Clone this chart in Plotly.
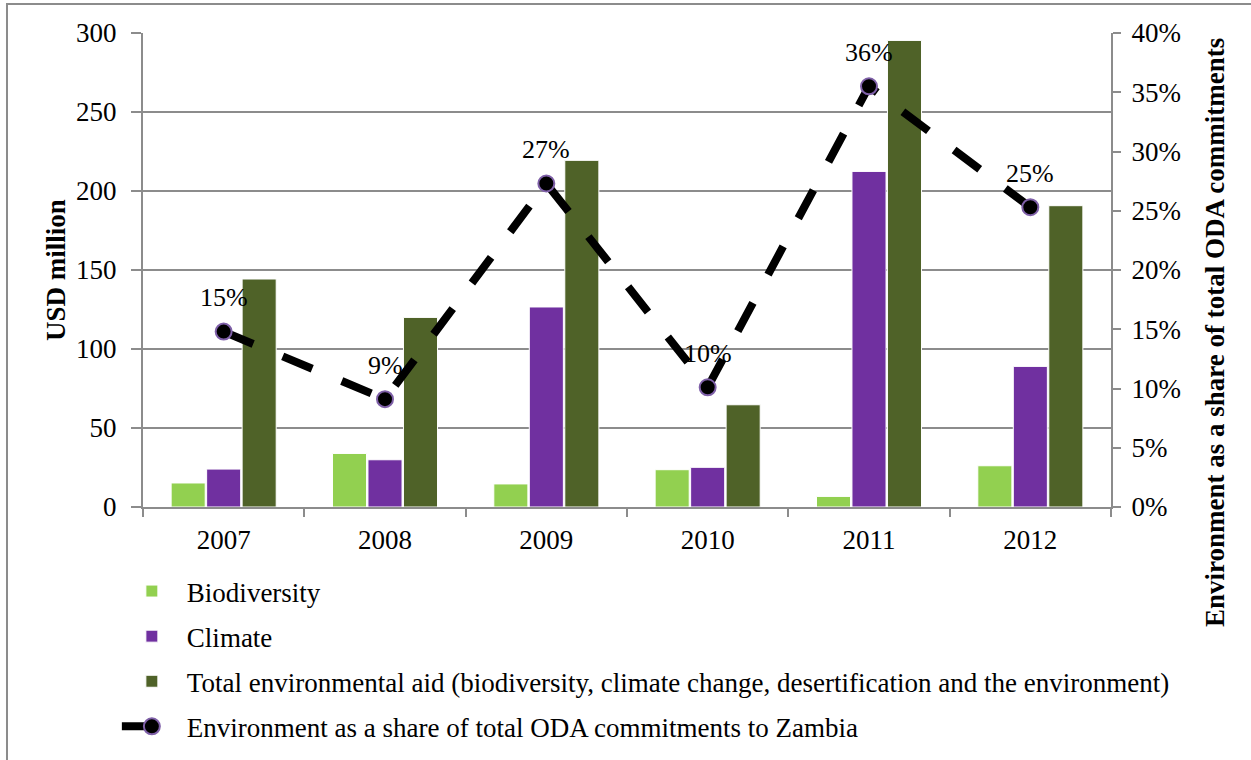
import plotly.graph_objects as go

years = ["2007", "2008", "2009", "2010", "2011", "2012"]
biodiversity = [15.2, 33.9, 14.6, 23.6, 6.7, 26.1]
climate = [24.0, 29.9, 126.6, 25.1, 212.4, 89.0]
total_env = [144.3, 120.0, 219.4, 64.7, 295.3, 190.7]
share_pct = [14.8, 9.1, 27.3, 10.1, 35.5, 25.3]
share_labels = ["15%", "9%", "27%", "10%", "36%", "25%"]

left_ticks = [0, 50, 100, 150, 200, 250, 300]
right_ticks = [0, 5, 10, 15, 20, 25, 30, 35, 40]

FONT = "Liberation Serif, Times New Roman, serif"
GRID = "#8c8c8c"
FS = 27

xi = list(range(len(years)))
bounds = [i - 0.5 for i in range(len(years) + 1)]

fig = go.Figure()
fig.add_trace(go.Bar(x=xi, y=biodiversity, name="Biodiversity",
                     marker=dict(color="#92D050", line=dict(color="white", width=1)),
                     legendgroup="a"))
fig.add_trace(go.Bar(x=xi, y=climate, name="Climate",
                     marker=dict(color="#7030A0", line=dict(color="white", width=1)),
                     legendgroup="b"))
fig.add_trace(go.Bar(x=xi, y=total_env,
                     name="Total environmental aid (biodiversity, climate change, desertification and the environment)",
                     marker=dict(color="#4F6228", line=dict(color="white", width=1)),
                     legendgroup="c"))
fig.add_trace(go.Scatter(x=xi, y=share_pct, yaxis="y2", mode="lines+markers",
                         name="Environment as a share of total ODA commitments to Zambia",
                         line=dict(color="black", width=8, dash="32px,32px"),
                         marker=dict(color="black", size=16, line=dict(color="#7F60A8", width=2)),
                         legendgroup="d"))

for i, v, lab in zip(xi, share_pct, share_labels):
    fig.add_annotation(x=i, y=v, xref="x", yref="y2", text=lab, showarrow=False,
                       xanchor="center", yanchor="middle",
                       yshift=34, font=dict(family=FONT, size=26, color="black"))

fig.add_annotation(text="<b>USD million</b>", xref="paper", yref="paper",
                   x=-0.0899, y=0.5, textangle=-90, showarrow=False,
                   xanchor="center", yanchor="middle",
                   font=dict(family=FONT, size=FS, color="black"))
fig.add_annotation(text="<b>Environment as a share of total ODA commitments</b>",
                   xref="paper", yref="paper", x=1.1074, y=0.369, textangle=-90,
                   xanchor="center", yanchor="middle",
                   showarrow=False, font=dict(family=FONT, size=FS, color="black"))

fig.add_shape(type="rect", xref="paper", yref="paper",
              x0=-0.1405, x1=1.3, y0=-0.7, y1=1.0612,
              line=dict(color="#8c8c8c", width=2), fillcolor="rgba(0,0,0,0)")

fig.update_layout(
    width=1251, height=760,
    margin=dict(l=143, r=140, t=33, b=253, autoexpand=False),
    paper_bgcolor="white", plot_bgcolor="white",
    font=dict(family=FONT, size=FS, color="black"),
    barmode="group", bargap=0.34, bargroupgap=0.04,
    showlegend=True,
    legend=dict(x=-0.027, y=-0.1266, xanchor="left", yanchor="top",
                traceorder="grouped", tracegroupgap=7, itemwidth=60,
                font=dict(family=FONT, size=FS, color="black"),
                bgcolor="rgba(0,0,0,0)"),
    xaxis=dict(range=[-0.5, len(years) - 0.5], tickmode="array", tickvals=xi, ticktext=years,
               showgrid=False, showline=True, linecolor=GRID, linewidth=2,
               ticks="", tickfont=dict(family=FONT, size=FS), zeroline=False,
               ticklabelstandoff=8, automargin=False,
               minor=dict(tickmode="array", tickvals=bounds, ticks="outside", ticklen=8,
                          tickcolor=GRID, tickwidth=2, showgrid=False)),
    yaxis=dict(range=[0, 300], tickvals=left_ticks, showgrid=True, gridcolor=GRID, gridwidth=2,
               showline=True, linecolor=GRID, linewidth=2, ticks="outside", ticklen=10,
               tickcolor=GRID, tickwidth=2, tickfont=dict(family=FONT, size=FS),
               ticklabelstandoff=9, zeroline=False, automargin=False),
    yaxis2=dict(range=[0, 40], tickvals=right_ticks, ticktext=[f"{t}%" for t in right_ticks],
                overlaying="y", side="right", showgrid=False, showline=True, linecolor=GRID,
                linewidth=2, ticks="outside", ticklen=8, tickcolor=GRID, tickwidth=2,
                tickfont=dict(family=FONT, size=FS), ticklabelstandoff=5, zeroline=False,
                automargin=False),
)

fig.write_html("out.html")
